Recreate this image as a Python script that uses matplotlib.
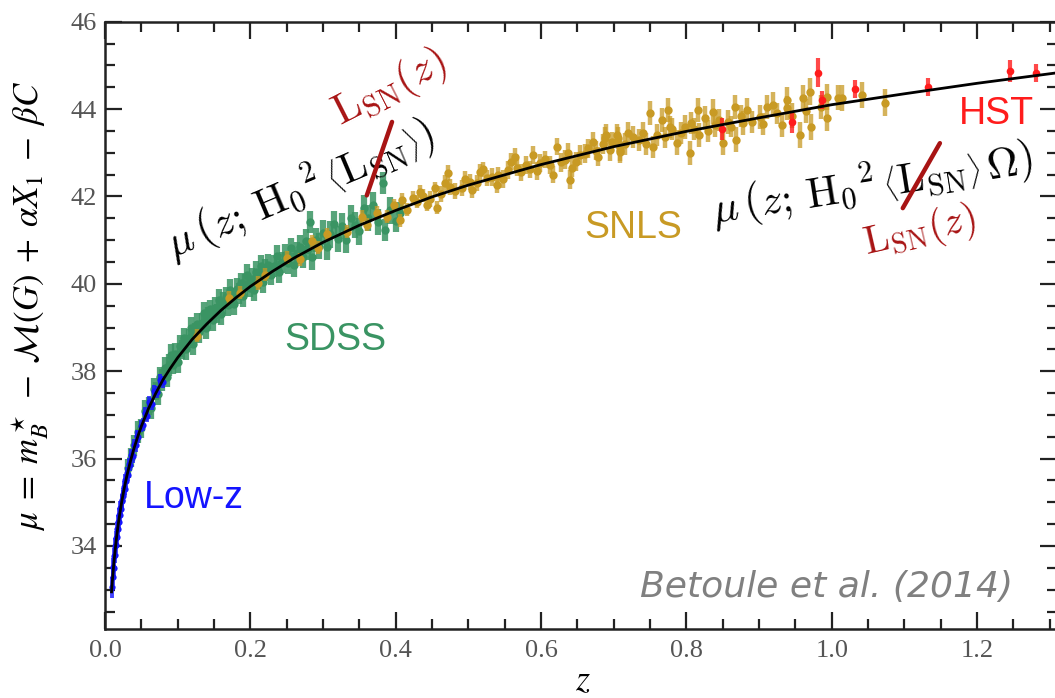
import matplotlib
matplotlib.use("Agg")
import matplotlib.pyplot as plt
from matplotlib.colors import to_rgba
from matplotlib.ticker import MultipleLocator

# Best-fit distance modulus curve
curve_z = [0.009, 0.010, 0.012, 0.014, 0.016, 0.018, 0.020, 0.023, 0.026, 0.030,
           0.035, 0.040, 0.045, 0.050, 0.060, 0.070, 0.080, 0.090, 0.100, 0.120,
           0.140, 0.160, 0.180, 0.200, 0.230, 0.260, 0.300, 0.350, 0.400, 0.450,
           0.500, 0.600, 0.700, 0.800, 0.900, 1.000, 1.100, 1.200, 1.310]
curve_mu = [32.95, 33.18, 33.58, 33.91, 34.21, 34.47, 34.70, 35.01, 35.28, 35.60,
            35.94, 36.24, 36.50, 36.74, 37.15, 37.50, 37.81, 38.07, 38.31, 38.73,
            39.08, 39.40, 39.68, 39.94, 40.28, 40.59, 40.95, 41.34, 41.68, 41.99,
            42.26, 42.73, 43.14, 43.49, 43.80, 44.10, 44.35, 44.59, 44.83]

# Low-z sample
lowz_z = [0.0095, 0.0105, 0.0115, 0.0120, 0.0128, 0.0135, 0.0142, 0.0150, 0.0155, 0.0162,
          0.0170, 0.0176, 0.0183, 0.0190, 0.0197, 0.0205, 0.0212, 0.0220, 0.0228, 0.0235,
          0.0243, 0.0250, 0.0260, 0.0270, 0.0280, 0.0290, 0.0300, 0.0315, 0.0330, 0.0345,
          0.0360, 0.0380, 0.0400, 0.0420, 0.0440, 0.0460, 0.0490, 0.0520, 0.0550, 0.0580,
          0.0610, 0.0650, 0.0680, 0.0720, 0.0760, 0.0800]
lowz_mu = [33.05, 33.30, 33.52, 33.50, 33.78, 33.80, 34.00, 34.02, 34.18, 34.20,
           34.40, 34.38, 34.55, 34.55, 34.72, 34.70, 34.88, 34.85, 35.05, 35.02,
           35.18, 35.15, 35.35, 35.30, 35.50, 35.48, 35.66, 35.62, 35.88, 35.85,
           36.08, 36.05, 36.32, 36.30, 36.52, 36.50, 36.75, 36.78, 37.05, 36.98,
           37.30, 37.25, 37.55, 37.52, 37.80, 37.75]
lowz_err = [0.25, 0.20, 0.20, 0.20, 0.18, 0.18, 0.18, 0.17, 0.17, 0.17,
            0.16, 0.16, 0.16, 0.15, 0.15, 0.15, 0.15, 0.15, 0.15, 0.14,
            0.14, 0.14, 0.14, 0.14, 0.14, 0.14, 0.14, 0.14, 0.14, 0.14,
            0.14, 0.14, 0.14, 0.14, 0.14, 0.14, 0.14, 0.14, 0.14, 0.14,
            0.14, 0.14, 0.14, 0.14, 0.14, 0.14]

# SDSS sample
sdss_z = [0.032, 0.036, 0.040, 0.045, 0.050, 0.055, 0.060, 0.063, 0.067, 0.070,
          0.073, 0.076, 0.079, 0.082, 0.085, 0.088, 0.091, 0.094, 0.097, 0.100,
          0.103, 0.106, 0.109, 0.112, 0.115, 0.118, 0.121, 0.124, 0.127, 0.130,
          0.133, 0.136, 0.139, 0.142, 0.145, 0.148, 0.151, 0.154, 0.157, 0.160,
          0.163, 0.166, 0.169, 0.172, 0.175, 0.178, 0.181, 0.184, 0.187, 0.190,
          0.193, 0.196, 0.199, 0.202, 0.205, 0.208, 0.211, 0.214, 0.217, 0.220,
          0.224, 0.228, 0.232, 0.236, 0.240, 0.244, 0.248, 0.252, 0.256, 0.260,
          0.264, 0.268, 0.272, 0.276, 0.280, 0.282, 0.285, 0.290, 0.295, 0.300,
          0.305, 0.310, 0.315, 0.320, 0.326, 0.332, 0.338, 0.344, 0.350, 0.356,
          0.362, 0.369, 0.375, 0.382, 0.385, 0.392, 0.400, 0.406]
sdss_mu = [35.78, 36.02, 36.30, 36.60, 36.69, 37.10, 37.20, 37.16, 37.60, 37.55,
           37.47, 37.87, 37.80, 38.08, 37.86, 38.14, 38.38, 38.15, 38.39, 38.21,
           38.57, 38.49, 38.75, 38.51, 38.75, 38.99, 38.63, 38.88, 39.08, 38.89,
           39.11, 39.33, 38.98, 39.21, 39.42, 39.17, 39.45, 39.33, 39.64, 39.30,
           39.56, 39.70, 39.51, 39.87, 39.67, 39.53, 39.89, 39.78, 40.03, 39.73,
           39.97, 40.21, 39.91, 40.12, 39.86, 40.28, 40.11, 40.40, 40.04, 40.31,
           40.43, 40.20, 40.40, 40.63, 40.27, 40.49, 40.67, 40.47, 40.81, 40.43,
           40.71, 40.84, 40.62, 40.97, 40.79, 41.41, 40.62, 41.00, 40.87, 41.17,
           40.85, 41.13, 41.37, 41.03, 41.32, 41.00, 41.51, 41.34, 41.20, 41.74,
           41.51, 41.81, 41.42, 42.30, 41.24, 41.68, 41.43, 41.62]
sdss_err = [0.22, 0.22, 0.25, 0.25, 0.22, 0.25, 0.20, 0.25, 0.25, 0.20,
            0.25, 0.22, 0.25, 0.25, 0.22, 0.25, 0.25, 0.22, 0.25, 0.25,
            0.25, 0.22, 0.25, 0.25, 0.22, 0.25, 0.25, 0.22, 0.25, 0.25,
            0.22, 0.25, 0.25, 0.25, 0.22, 0.25, 0.25, 0.22, 0.25, 0.25,
            0.25, 0.22, 0.25, 0.25, 0.22, 0.25, 0.25, 0.25, 0.22, 0.25,
            0.25, 0.25, 0.22, 0.25, 0.25, 0.25, 0.22, 0.25, 0.25, 0.25,
            0.25, 0.22, 0.25, 0.25, 0.25, 0.25, 0.25, 0.25, 0.25, 0.28,
            0.25, 0.28, 0.25, 0.28, 0.25, 0.25, 0.30, 0.28, 0.30, 0.28,
            0.30, 0.30, 0.30, 0.30, 0.30, 0.30, 0.30, 0.30, 0.30, 0.30,
            0.30, 0.30, 0.30, 0.25, 0.25, 0.30, 0.25, 0.25]

# SNLS sample
snls_z = [0.127, 0.171, 0.186, 0.210, 0.220, 0.250, 0.268, 0.285, 0.293, 0.305,
          0.333, 0.354, 0.360, 0.374, 0.388, 0.398, 0.406, 0.409, 0.415, 0.424,
          0.430, 0.433, 0.438, 0.443, 0.447, 0.454, 0.457, 0.462, 0.468, 0.472,
          0.475, 0.482, 0.491, 0.495, 0.502, 0.505, 0.512, 0.516, 0.520, 0.525,
          0.532, 0.539, 0.541, 0.548, 0.554, 0.558, 0.564, 0.567, 0.572, 0.580,
          0.585, 0.589, 0.594, 0.598, 0.605, 0.612, 0.616, 0.622, 0.628, 0.633,
          0.637, 0.640, 0.642, 0.648, 0.653, 0.660, 0.665, 0.671, 0.675, 0.678,
          0.685, 0.688, 0.690, 0.695, 0.698, 0.704, 0.706, 0.708, 0.708, 0.715,
          0.720, 0.726, 0.735, 0.740, 0.745, 0.750, 0.754, 0.760, 0.766, 0.770,
          0.775, 0.777, 0.780, 0.787, 0.792, 0.798, 0.805, 0.807, 0.810, 0.816,
          0.818, 0.825, 0.830, 0.836, 0.839, 0.845, 0.850, 0.857, 0.862, 0.867,
          0.868, 0.875, 0.878, 0.884, 0.890, 0.901, 0.905, 0.911, 0.919, 0.925,
          0.931, 0.938, 0.939, 0.945, 0.956, 0.960, 0.965, 0.970, 0.971, 0.985,
          0.994, 0.994, 1.008, 1.014, 1.041, 1.073]
snls_mu = [38.81, 39.68, 39.80, 40.02, 40.21, 40.60, 40.56, 40.97, 40.83, 41.13,
           41.19, 41.54, 41.35, 41.63, 41.54, 41.80, 41.46, 41.92, 41.70, 41.97,
           41.88, 42.11, 42.02, 41.81, 41.95, 42.19, 41.74, 42.05, 42.30, 42.54,
           42.22, 42.12, 42.19, 42.40, 42.33, 42.15, 42.30, 42.56, 42.62, 42.42,
           42.45, 42.27, 42.49, 42.40, 42.61, 42.80, 42.91, 42.66, 42.55, 42.72,
           42.62, 42.95, 42.58, 42.77, 42.85, 42.72, 42.50, 43.14, 42.78, 42.84,
           43.00, 42.38, 42.66, 42.80, 42.95, 42.98, 43.10, 43.25, 43.05, 42.91,
           43.20, 43.34, 43.41, 43.07, 43.25, 43.41, 43.34, 43.02, 43.07, 43.20,
           43.45, 43.36, 43.30, 43.46, 43.20, 43.91, 43.14, 43.40, 43.75, 43.35,
           43.98, 43.59, 43.55, 43.23, 43.45, 43.59, 42.99, 43.68, 43.55, 43.98,
           43.41, 43.80, 43.50, 43.94, 43.64, 43.75, 43.23, 43.71, 43.60, 44.05,
           43.30, 43.85, 43.68, 43.98, 43.70, 43.82, 43.65, 44.05, 44.10, 43.90,
           43.64, 44.21, 44.03, 43.85, 43.41, 44.26, 43.95, 44.40, 43.59, 44.05,
           43.80, 44.28, 44.26, 44.26, 44.33, 44.15]
snls_err = [0.15, 0.15, 0.15, 0.15, 0.15, 0.15, 0.15, 0.15, 0.15, 0.15,
            0.15, 0.15, 0.15, 0.15, 0.15, 0.15, 0.15, 0.15, 0.15, 0.15,
            0.15, 0.15, 0.15, 0.15, 0.18, 0.15, 0.15, 0.18, 0.18, 0.18,
            0.18, 0.18, 0.18, 0.18, 0.18, 0.18, 0.18, 0.18, 0.18, 0.18,
            0.20, 0.18, 0.18, 0.20, 0.20, 0.20, 0.20, 0.20, 0.20, 0.20,
            0.20, 0.20, 0.20, 0.20, 0.20, 0.20, 0.20, 0.20, 0.22, 0.22,
            0.22, 0.22, 0.22, 0.22, 0.22, 0.22, 0.22, 0.22, 0.22, 0.22,
            0.22, 0.25, 0.25, 0.25, 0.22, 0.25, 0.25, 0.25, 0.25, 0.25,
            0.25, 0.25, 0.25, 0.25, 0.25, 0.28, 0.25, 0.25, 0.28, 0.25,
            0.28, 0.25, 0.25, 0.28, 0.25, 0.28, 0.28, 0.25, 0.25, 0.28,
            0.28, 0.28, 0.25, 0.28, 0.28, 0.25, 0.28, 0.28, 0.25, 0.28,
            0.28, 0.25, 0.28, 0.28, 0.25, 0.28, 0.25, 0.28, 0.28, 0.25,
            0.28, 0.30, 0.28, 0.28, 0.30, 0.28, 0.28, 0.30, 0.30, 0.28,
            0.30, 0.30, 0.28, 0.30, 0.30, 0.30]

# HST sample
hst_z = [0.849, 0.945, 0.981, 0.986, 1.032, 1.133, 1.245, 1.281]
hst_mu = [43.55, 43.71, 44.83, 44.21, 44.46, 44.51, 44.87, 44.83]
hst_err = [0.25, 0.25, 0.33, 0.20, 0.20, 0.20, 0.25, 0.20]

LOWZ_COLOR = "#1414ff"
SDSS_COLOR = "#3a9463"
SNLS_COLOR = "#c89a24"
HST_COLOR = "#ff1c1c"
STRIKE_COLOR = "#a81414"


def draw_sample(ax, z, mu, err, color, zorder, ms=5.5, elw=3.0, alpha=0.7):
    ax.errorbar(z, mu, yerr=err, fmt="o", ms=ms, color=color, mec="none",
                ecolor=to_rgba(color, alpha), elinewidth=elw, capsize=0,
                zorder=zorder)


fig = plt.figure(figsize=(10.55, 6.98), dpi=100)
ax = fig.add_axes([105 / 1055, 1 - 629 / 698, 952 / 1055, 607.3 / 698])

draw_sample(ax, sdss_z, sdss_mu, sdss_err, SDSS_COLOR, 2, ms=6, elw=4.5, alpha=0.85)
draw_sample(ax, snls_z, snls_mu, snls_err, SNLS_COLOR, 3, ms=6, elw=3.2, alpha=0.75)
draw_sample(ax, lowz_z, lowz_mu, lowz_err, LOWZ_COLOR, 4, ms=4.5, elw=2.8, alpha=0.8)
draw_sample(ax, hst_z, hst_mu, hst_err, HST_COLOR, 5, ms=5.5, elw=3.0, alpha=0.8)
ax.plot(curve_z, curve_mu, color="black", lw=2.0, zorder=6)

ax.set_xlim(0, 1.31)
ax.set_ylim(32.1, 46)
ax.set_xticks([0.0, 0.2, 0.4, 0.6, 0.8, 1.0, 1.2])
ax.set_yticks([34, 36, 38, 40, 42, 44, 46])
ax.xaxis.set_minor_locator(MultipleLocator(0.05))
ax.yaxis.set_minor_locator(MultipleLocator(0.5))
ax.xaxis.set_major_formatter(matplotlib.ticker.FormatStrFormatter("%.1f"))
ax.tick_params(which="both", direction="in", top=True, right=True,
               width=1.6, color="#222222")
ax.tick_params(which="major", length=12)
ax.tick_params(which="minor", length=7)
for label in ax.get_xticklabels() + ax.get_yticklabels():
    label.set_fontfamily("Liberation Serif")
    label.set_fontsize(19)
    label.set_color("#555555")
ax.tick_params(axis="x", pad=8)
ax.tick_params(axis="y", pad=6)
for spine in ax.spines.values():
    spine.set_linewidth(1.8)
    spine.set_color("#222222")

# axis labels
fig.text(30 / 1055, 1 - 306 / 698,
         r"$\mu\;=\;m_B^\star\;-\;\mathcal{M}(G)\;+\;\alpha X_1\;-\;\beta C$",
         rotation=90, ha="center", va="center", fontsize=25,
         math_fontfamily="stix")
fig.text(583 / 1055, 1 - 680 / 698, r"$z$", ha="center", va="center",
         fontsize=26, math_fontfamily="stix")

# sample names
sans = "Liberation Sans"
ax.text(0.0935, 0.216, "Low-z", color=LOWZ_COLOR, fontsize=27, family=sans,
        ha="center", va="center", transform=ax.transAxes)
ax.text(0.2416, 0.476, "SDSS", color=SDSS_COLOR, fontsize=27, family=sans,
        ha="center", va="center", transform=ax.transAxes)
ax.text(0.5546, 0.660, "SNLS", color=SNLS_COLOR, fontsize=27, family=sans,
        ha="center", va="center", transform=ax.transAxes)
ax.text(0.936, 0.848, "HST", color=HST_COLOR, fontsize=27, family=sans,
        ha="center", va="center", transform=ax.transAxes)
ax.text(0.954, 0.069, "Betoule et al. (2014)", color="#808080", fontsize=26,
        family="DejaVu Sans", style="italic", ha="right", va="center",
        transform=ax.transAxes)

# luminosity annotations
ax.text(0.205, 0.723,
        r"$\mu\,\left(z;\, {\mathrm{H}_0}^2\, \left\langle \mathrm{L}_{\mathrm{SN}} \right\rangle\right)$",
        fontsize=31, rotation=23, rotation_mode="anchor", ha="center",
        va="center", transform=ax.transAxes, math_fontfamily="cm", zorder=7)
ax.text(0.299, 0.891, r"$\mathrm{L}_{\mathrm{SN}}(z)$", color=STRIKE_COLOR,
        fontsize=31, rotation=27, rotation_mode="anchor", ha="center",
        va="center", transform=ax.transAxes, math_fontfamily="cm", zorder=7)
ax.plot([0.275, 0.3015], [0.714, 0.835], color=STRIKE_COLOR, lw=3.2,
        transform=ax.transAxes, solid_capstyle="round", zorder=8)

ax.text(0.806, 0.731,
        r"$\mu\,\left(z;\, {\mathrm{H}_0}^2\, \left\langle \mathrm{L}_{\mathrm{SN}} \right\rangle\, \Omega\right)$",
        fontsize=31, rotation=9, rotation_mode="anchor", ha="center",
        va="center", transform=ax.transAxes, math_fontfamily="cm", zorder=7)
ax.text(0.856, 0.654, r"$\mathrm{L}_{\mathrm{SN}}(z)$", color=STRIKE_COLOR,
        fontsize=29, rotation=13, rotation_mode="anchor", ha="center",
        va="center", transform=ax.transAxes, math_fontfamily="cm", zorder=7)
ax.plot([0.838, 0.877], [0.693, 0.800], color=STRIKE_COLOR, lw=3.2,
        transform=ax.transAxes, solid_capstyle="round", zorder=8)

fig.savefig("out.png", dpi=100)
